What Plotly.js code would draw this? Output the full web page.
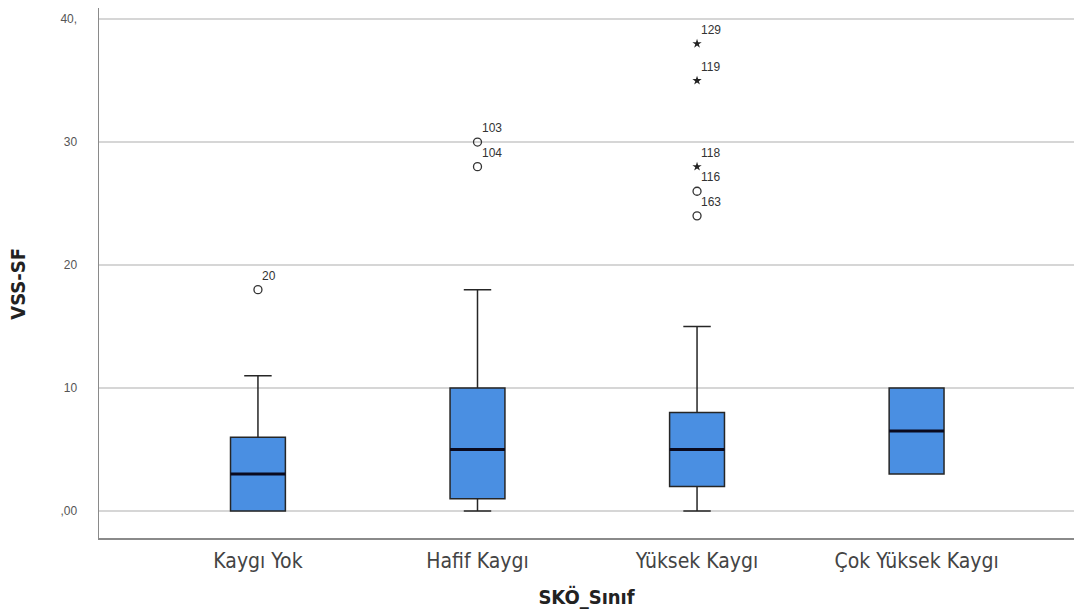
<!DOCTYPE html>
<html>
<head>
<meta charset="utf-8">
<script src="https://cdn.plot.ly/plotly-3.0.1.min.js"></script>
<style>
  html, body { margin: 0; padding: 0; background: #fff; }
  #chart { width: 1074px; height: 614px; }
</style>
</head>
<body>
<div id="chart"></div>
<script>
// Anxiety groups (SKÖ class) and VSS-SF box statistics
const categories = ["Kaygı Yok", "Hafif Kaygı", "Yüksek Kaygı", "Çok Yüksek Kaygı"];
const lowerWhisker = [0, 0, 0, 3];
const q1 = [0, 1, 2, 3];
const median = [3, 5, 5, 6.5];
const q3 = [6, 10, 8, 10];
const upperWhisker = [11, 18, 15, 10];

// Outliers (circles) and extreme values (stars) with case numbers
const outlierGroup = ["Kaygı Yok", "Hafif Kaygı", "Hafif Kaygı", "Yüksek Kaygı", "Yüksek Kaygı"];
const outlierValue = [18, 30, 28, 26, 24];
const outlierCase = ["20", "103", "104", "116", "163"];
const extremeGroup = ["Yüksek Kaygı", "Yüksek Kaygı", "Yüksek Kaygı"];
const extremeValue = [38, 35, 28];
const extremeCase = ["129", "119", "118"];

const yTickVals = [0, 10, 20, 30, 40];
const yTickText = [",00", "10", "20", "30", "40,"];

const boxWidth = 0.25;
const condensed = "DejaVu Sans Condensed, Liberation Sans, Arial, sans-serif";
const labelFont = { family: "Liberation Sans, Arial, sans-serif", size: 12, color: "#333" };

const traces = [
  {
    type: "box",
    x: categories,
    q1: q1,
    median: median,
    q3: q3,
    lowerfence: lowerWhisker,
    upperfence: upperWhisker,
    width: boxWidth,
    whiskerwidth: 0.5,
    fillcolor: "#4a8fe2",
    line: { color: "#262626", width: 1.5 },
    boxpoints: false,
    hoverinfo: "skip",
    showlegend: false
  },
  {
    type: "scatter",
    mode: "markers",
    x: outlierGroup,
    y: outlierValue,
    marker: { symbol: "circle-open", size: 8, color: "#333", line: { width: 1.3 } },
    hoverinfo: "skip",
    showlegend: false,
    cliponaxis: false
  },
  {
    type: "scatter",
    mode: "markers",
    x: extremeGroup,
    y: extremeValue,
    marker: { symbol: "star", size: 7, color: "#222" },
    hoverinfo: "skip",
    showlegend: false,
    cliponaxis: false
  }
];

// Thick median bars drawn over each box
const shapes = categories.map((c, i) => ({
  type: "line",
  xref: "x", yref: "y",
  x0: i - boxWidth / 2, x1: i + boxWidth / 2,
  y0: median[i], y1: median[i],
  line: { color: "#0a0a1e", width: 3 }
}));

// Case-number labels next to outlier markers
const annotations = [];
outlierGroup.forEach((g, i) => annotations.push({
  x: categories.indexOf(g), y: outlierValue[i], xref: "x", yref: "y",
  text: outlierCase[i], showarrow: false, xanchor: "left", yanchor: "bottom",
  xshift: 2, yshift: 5, font: labelFont
}));
extremeGroup.forEach((g, i) => annotations.push({
  x: categories.indexOf(g), y: extremeValue[i], xref: "x", yref: "y",
  text: extremeCase[i], showarrow: false, xanchor: "left", yanchor: "bottom",
  xshift: 2, yshift: 5, font: labelFont
}));

// Vertical y-axis title, sitting slightly below the plot's middle
annotations.push({
  xref: "paper", yref: "paper", x: -0.083, y: 0.48,
  text: "<b>VSS-SF</b>", textangle: -90, showarrow: false,
  xanchor: "center", yanchor: "middle",
  font: { family: condensed, size: 20, color: "#222" }
});

const layout = {
  width: 1074,
  height: 614,
  margin: { l: 99, r: 0, t: 8, b: 76 },
  paper_bgcolor: "#fff",
  plot_bgcolor: "#fff",
  showlegend: false,
  font: { family: "Liberation Sans, Arial, sans-serif", color: "#444" },
  xaxis: {
    type: "category",
    categoryorder: "array",
    categoryarray: categories,
    range: [-0.724, 3.717],
    showgrid: false,
    zeroline: false,
    showline: true,
    linecolor: "#8a8a8a",
    linewidth: 1.5,
    ticks: "",
    ticklabelstandoff: 3,
    tickfont: { family: condensed, size: 21, color: "#444" },
    title: {
      text: "<b>SKÖ_Sınıf</b>",
      font: { family: condensed, size: 20, color: "#222" },
      standoff: 18
    },
    fixedrange: true
  },
  yaxis: {
    range: [-2.195, 40.9],
    tickvals: yTickVals,
    ticktext: yTickText,
    showgrid: true,
    gridcolor: "#d6d6d6",
    gridwidth: 1.5,
    zeroline: false,
    showline: true,
    linecolor: "#8a8a8a",
    linewidth: 1.5,
    ticks: "",
    ticklabelstandoff: 18,
    tickfont: { family: "Liberation Sans, Arial, sans-serif", size: 12, color: "#555" },
    fixedrange: true
  },
  shapes: shapes,
  annotations: annotations
};

Plotly.newPlot("chart", traces, layout, { displayModeBar: false, staticPlot: true });
</script>
</body>
</html>
